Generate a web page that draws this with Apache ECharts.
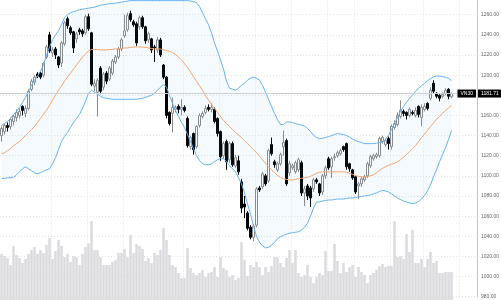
<!DOCTYPE html>
<html><head><meta charset="utf-8">
<script src="https://cdn.jsdelivr.net/npm/echarts/dist/echarts.min.js"></script>
<style>html,body{margin:0;padding:0;background:#fff}#c{width:501px;height:300px}</style>
</head><body><div id="c"></div>
<script>
// ---- data ----
const opens = [1140,1144,1150,1149,1154,1158,1160,1169,1162,1167,
1186,1193,1201,1202,1200,1218,1240,1222,1226,1218,
1212,1231,1256,1247,1243,1236,1245,1244,1242,1258,
1242,1189,1183,1207,1188,1202,1196,1202,1213,1218,
1226,1239,1245,1261,1253,1251,1248,1257,1248,1235,
1236,1228,1225,1235,1210,1198,1163,1162,1166,1169,
1166,1168,1157,1129,1142,1129,1150,1159,1163,1168,
1166,1166,1157,1144,1120,1134,1116,1132,1110,1115,
1094,1072,1063,1049,1039,1051,1088,1089,1100,1095,
1131,1114,1106,1112,1129,1135,1103,1108,1104,1106,
1113,1083,1090,1088,1087,1096,1092,1084,1100,1117,
1109,1118,1120,1122,1129,1132,1112,1106,1099,1090,
1092,1096,1100,1110,1117,1119,1120,1134,1131,1137,
1129,1148,1151,1159,1164,1163,1160,1163,1160,1169,
1158,1166,1172,1177,1192,1182,1180,1179,1182,1186,1178.5];
const closes = [1147,1150,1148,1156,1159,1163,1164,1165,1167,1184,
1194,1198,1199,1198,1212,1228,1224,1225,1220,1210,
1232,1252,1249,1242,1227,1241,1243,1241,1258,1246,
1191,1192,1195,1184,1201,1194,1207,1214,1218,1226,
1235,1244,1259,1255,1250,1232,1257,1248,1234,1241,
1225,1227,1235,1220,1198,1160,1152,1168,1168,1166,
1168,1165,1130,1138,1126,1149,1160,1162,1167,1166,
1168,1154,1142,1119,1132,1114,1132,1111,1118,1104,
1068,1069,1048,1039,1050,1087,1086,1102,1092,1125,
1122,1111,1112,1121,1133,1092,1112,1110,1113,1116,
1083,1087,1080,1078,1096,1094,1083,1100,1108,1108,
1117,1119,1123,1125,1126,1109,1107,1098,1084,1092,
1097,1099,1112,1119,1120,1121,1137,1138,1135,1132,
1149,1152,1160,1165,1162,1160,1166,1162,1165,1161,
1168,1169,1167,1185,1184,1179,1177,1181,1185,1179,1181.71];
const lows = [1134,1141,1144,1146,1150,1154,1157,1160,1158,1165,
1184,1190,1197,1196,1198,1216,1222,1218,1216,1207,
1208,1229,1246,1240,1222,1232,1240,1238,1240,1244,
1189,1184,1159,1181,1185,1191,1194,1200,1211,1216,
1224,1237,1243,1253,1248,1229,1245,1246,1231,1232,
1222,1213,1222,1218,1196,1157,1150,1143,1163,1162,
1160,1163,1128,1126,1121,1127,1148,1157,1161,1164,
1163,1152,1139,1115,1117,1106,1113,1109,1108,1101,
1063,1058,1046,1037,1035,1049,1084,1087,1090,1093,
1120,1108,1104,1110,1120,1090,1100,1106,1102,1104,
1080,1070,1076,1069,1084,1092,1080,1081,1097,1106,
1098,1115,1118,1120,1124,1106,1104,1096,1082,1077,
1089,1094,1098,1108,1115,1117,1118,1132,1129,1126,
1126,1146,1149,1157,1159,1156,1158,1160,1158,1158,
1149,1164,1165,1175,1182,1177,1174,1177,1180,1176,1177];
const highs = [1149,1152,1153,1158,1161,1166,1167,1170,1170,1186,
1196,1200,1203,1203,1213,1230,1243,1228,1228,1219,
1234,1254,1258,1249,1244,1243,1247,1246,1260,1261,
1243,1196,1197,1209,1203,1204,1209,1216,1220,1228,
1237,1260,1262,1264,1255,1253,1259,1259,1249,1243,
1237,1230,1238,1237,1211,1199,1164,1178,1170,1171,
1176,1170,1159,1140,1143,1150,1162,1164,1170,1171,
1172,1168,1158,1145,1134,1136,1134,1134,1121,1120,
1097,1080,1065,1051,1052,1089,1090,1104,1102,1127,
1138,1116,1114,1123,1145,1137,1115,1112,1115,1118,
1115,1090,1092,1090,1098,1098,1093,1102,1110,1119,
1119,1122,1125,1127,1130,1133,1113,1107,1100,1094,
1099,1101,1114,1121,1122,1123,1139,1140,1137,1139,
1151,1155,1163,1175,1166,1164,1168,1165,1168,1170,
1171,1172,1173,1188,1195,1183,1181,1183,1187,1187,1183];
const volumes = [46,44,42,35,54,45,42,37,41,46,
50,53,46,50,47,55,62,41,49,60,
54,43,46,38,44,43,35,46,53,57,
79,50,50,43,35,35,35,38,40,47,
47,51,43,65,47,56,54,51,39,42,
37,47,45,50,72,60,45,35,33,27,
22,22,52,32,27,25,27,30,23,27,
28,33,23,43,32,30,23,25,20,22,
58,40,24,35,33,38,33,25,33,28,
34,43,43,37,33,42,50,37,50,27,
23,25,35,23,17,23,27,25,49,29,
29,56,39,27,37,28,33,35,23,33,
28,25,17,25,27,30,34,36,33,34,
34,79,43,44,41,66,48,70,37,37,
41,33,41,48,37,39,27,27,28,28,28];
const bollUpper = [1150,1152,1154,1157,1161,1164,1168,1173,1178,1184,
1190,1195,1199,1204,1210,1220,1228,1235,1240,1244,
1250,1257,1260,1262,1263,1264,1265,1265.5,1266,1266.5,
1267,1267.5,1268.5,1269.5,1270,1270.5,1271,1271,1271.5,1272,
1272.5,1273,1273.5,1274,1274,1274,1274,1274,1274,1274,
1274,1274,1274,1274,1274,1274,1274,1274,1274,1274,
1274,1274,1274,1273.5,1273,1272,1268,1262,1256,1250,
1242,1232,1224,1215,1206,1194,1187,1186,1185,1187,
1190,1192,1195,1197,1198,1197,1195,1190,1183,1176,
1169,1162,1156,1151,1151,1153.5,1153.5,1153,1152,1151,
1150.5,1149.5,1147,1144,1140.5,1138,1137,1137.5,1138,1139,
1140,1141,1142,1141.5,1141,1140,1138.5,1136.5,1135,1134,
1133,1132,1132,1132,1132,1132.5,1133,1134,1136,1140,
1146,1152,1158,1164,1169,1173,1177,1180,1184,1187,
1189.5,1192,1194.5,1196.5,1198.5,1199,1199,1198.5,1198,1197,1194.5];
const bollMid = [1122,1123,1125,1127,1130,1132,1134,1137,1140,1143,
1146,1149,1153,1157,1161,1165,1170,1175,1180,1185,
1189,1194,1198,1202,1206,1210,1214,1218,1221,1224,
1225.5,1225.5,1225.5,1225,1225,1225,1225.5,1225.5,1226,1226,
1226.5,1227,1227,1227.5,1228,1228,1228,1228,1227.5,1227,
1226.5,1226,1226,1226,1225,1224.5,1223.5,1222.5,1220.5,1218,
1215,1211.5,1207.5,1203,1198.5,1194,1189.5,1185,1180,1175,
1171,1167,1163,1159,1155,1152,1149,1146,1143,1140.5,
1138,1135,1132,1129,1126,1123,1119.5,1116,1112.5,1109,
1106,1103,1100.5,1098.5,1097,1096.5,1096,1096,1096.5,1097,
1097.5,1098,1098.5,1099.5,1101,1102.5,1103.5,1104,1104,1104,
1104,1104,1104,1104,1104,1103.5,1102.5,1101.5,1100.5,1099.5,
1099,1099,1099.5,1100,1101,1103,1105.5,1107.5,1109,1110.5,
1111.5,1112.5,1114,1116,1118.5,1121,1124,1127,1130,1134,
1138,1141.5,1145,1149,1152.5,1156,1159,1162,1165,1167.5,1170];
const bollLower = [1097.5,1097.5,1098,1098,1098.5,1101,1104,1107,1109,1107,
1105,1103,1102,1103,1104.5,1106,1107,1112,1118,1126,
1134,1139,1143,1148,1153,1157,1161,1167,1174,1182,
1185,1183,1181,1179,1177.5,1177,1176.5,1176,1176,1176,
1176,1176,1176,1176,1176,1176,1176.5,1177,1178,1179,
1180,1182,1185,1188,1191,1188,1180,1172,1165,1159,
1153,1148,1141,1134,1127,1120,1115,1112,1111,1111,
1112,1114,1116,1117,1117,1114,1110,1107,1104,1098,
1092,1083,1072,1062,1050,1040,1034,1030.5,1028.5,1029,
1031,1034,1037.5,1039.5,1041,1042,1043,1043.5,1044,1044.5,
1046,1049,1053,1060,1068,1074,1074,1075,1075.5,1076,
1076,1076.5,1077,1077,1077,1077.5,1078,1078,1078.5,1079,
1079.5,1080,1080.5,1081,1082,1083,1084.5,1085.5,1085,1084,
1082,1080,1078,1076.5,1075,1074,1073,1072.5,1073,1074.5,
1077,1080.5,1085,1091,1099,1106,1114,1121,1128,1136,1145];
const lastPrice = 1181.71;
const symbolName = 'VN30';
// ---- layout helpers ----
const N = opens.length;
const PAD = 8; // empty slots right of the last candle
const categories = Array.from({length: N + PAD}, (_, i) => i < N ? 'D' + (i + 1) : '');
const xSplitIdx = [17, 29, 41, 61, 73, 85, 97, 109, 118, 130, 141, 153];

const candleData = opens.map((o, i) => [o, closes[i], lows[i], highs[i]]);
const bandWidthData = bollUpper.map((u, i) => +(u - bollLower[i]).toFixed(2));

const chart = echarts.init(document.getElementById('c'), null, {renderer: 'canvas'});
const grid = '#e4e4e4';
const blue = '#64b0f2';
const font = 'Liberation Sans, Arial, sans-serif';
chart.setOption({
  animation: false,
  grid: [
    {left: 0, right: 24, top: -5.44, height: 302.14, outerBoundsMode: 'none', containLabel: false},
    {left: 0, right: 24, top: 0, bottom: 0, outerBoundsMode: 'none', containLabel: false}
  ],
  xAxis: [
    {type: 'category', gridIndex: 0, data: categories, boundaryGap: true,
     axisLine: {show: false}, axisTick: {show: false}, axisLabel: {show: false},
     splitLine: {show: true, interval: (idx) => xSplitIdx.includes(idx),
                 lineStyle: {color: grid, type: [1, 2], width: 1}}},
    {type: 'category', gridIndex: 1, data: categories, boundaryGap: true, show: false}
  ],
  yAxis: [
    {type: 'value', gridIndex: 0, position: 'right', min: 980, max: 1280, interval: 20,
     axisLine: {show: true, lineStyle: {color: '#c4c4c4', width: 1}},
     axisTick: {show: false},
     axisLabel: {color: '#666', fontSize: 5, margin: 4, fontFamily: font,
                 formatter: (v) => v.toFixed(2)},
     splitLine: {show: true, lineStyle: {color: grid, type: [1, 2], width: 1}}},
    {type: 'value', gridIndex: 1, min: 0, max: 300, show: false, splitLine: {show: false}}
  ],
  series: [
    {type: 'bar', name: 'Volume', xAxisIndex: 1, yAxisIndex: 1, data: volumes,
     barCategoryGap: '18%', itemStyle: {color: '#dadadf'}, silent: true},
    {type: 'line', name: 'BB lower', data: bollLower, stack: 'bb', symbol: 'none', silent: true,
     lineStyle: {color: blue, width: 1}},
    {type: 'line', name: 'BB band', data: bandWidthData, stack: 'bb', symbol: 'none', silent: true,
     lineStyle: {width: 0, opacity: 0}, areaStyle: {color: 'rgba(100,170,240,0.09)'}},
    {type: 'line', name: 'BB upper', data: bollUpper, symbol: 'none', silent: true,
     lineStyle: {color: blue, width: 1}},
    {type: 'line', name: 'BB mid', data: bollMid, symbol: 'none', silent: true,
     lineStyle: {color: '#f5a36a', width: 1}},
    {type: 'candlestick', name: symbolName, data: candleData, barWidth: 2.2, silent: true,
     itemStyle: {color: '#ffffff', color0: '#000000', borderColor: '#8a8a8a', borderColor0: '#000000', borderWidth: 1},
     markLine: {symbol: ['none', 'none'], silent: true, animation: false,
       lineStyle: {color: '#cfcfcf', type: 'solid', width: 1},
       data: [
         {yAxis: lastPrice, label: {show: true, position: 'end', distance: 1, formatter: lastPrice.toFixed(2),
           backgroundColor: '#000', color: '#fff', fontSize: 5, padding: [1.5, 3], fontFamily: font}},
         {yAxis: lastPrice, label: {show: true, position: 'insideEnd', distance: 1, formatter: symbolName,
           backgroundColor: '#000', color: '#fff', fontSize: 5, padding: [1.5, 3], fontFamily: font}}
       ]}}
  ]
});
</script></body></html>
